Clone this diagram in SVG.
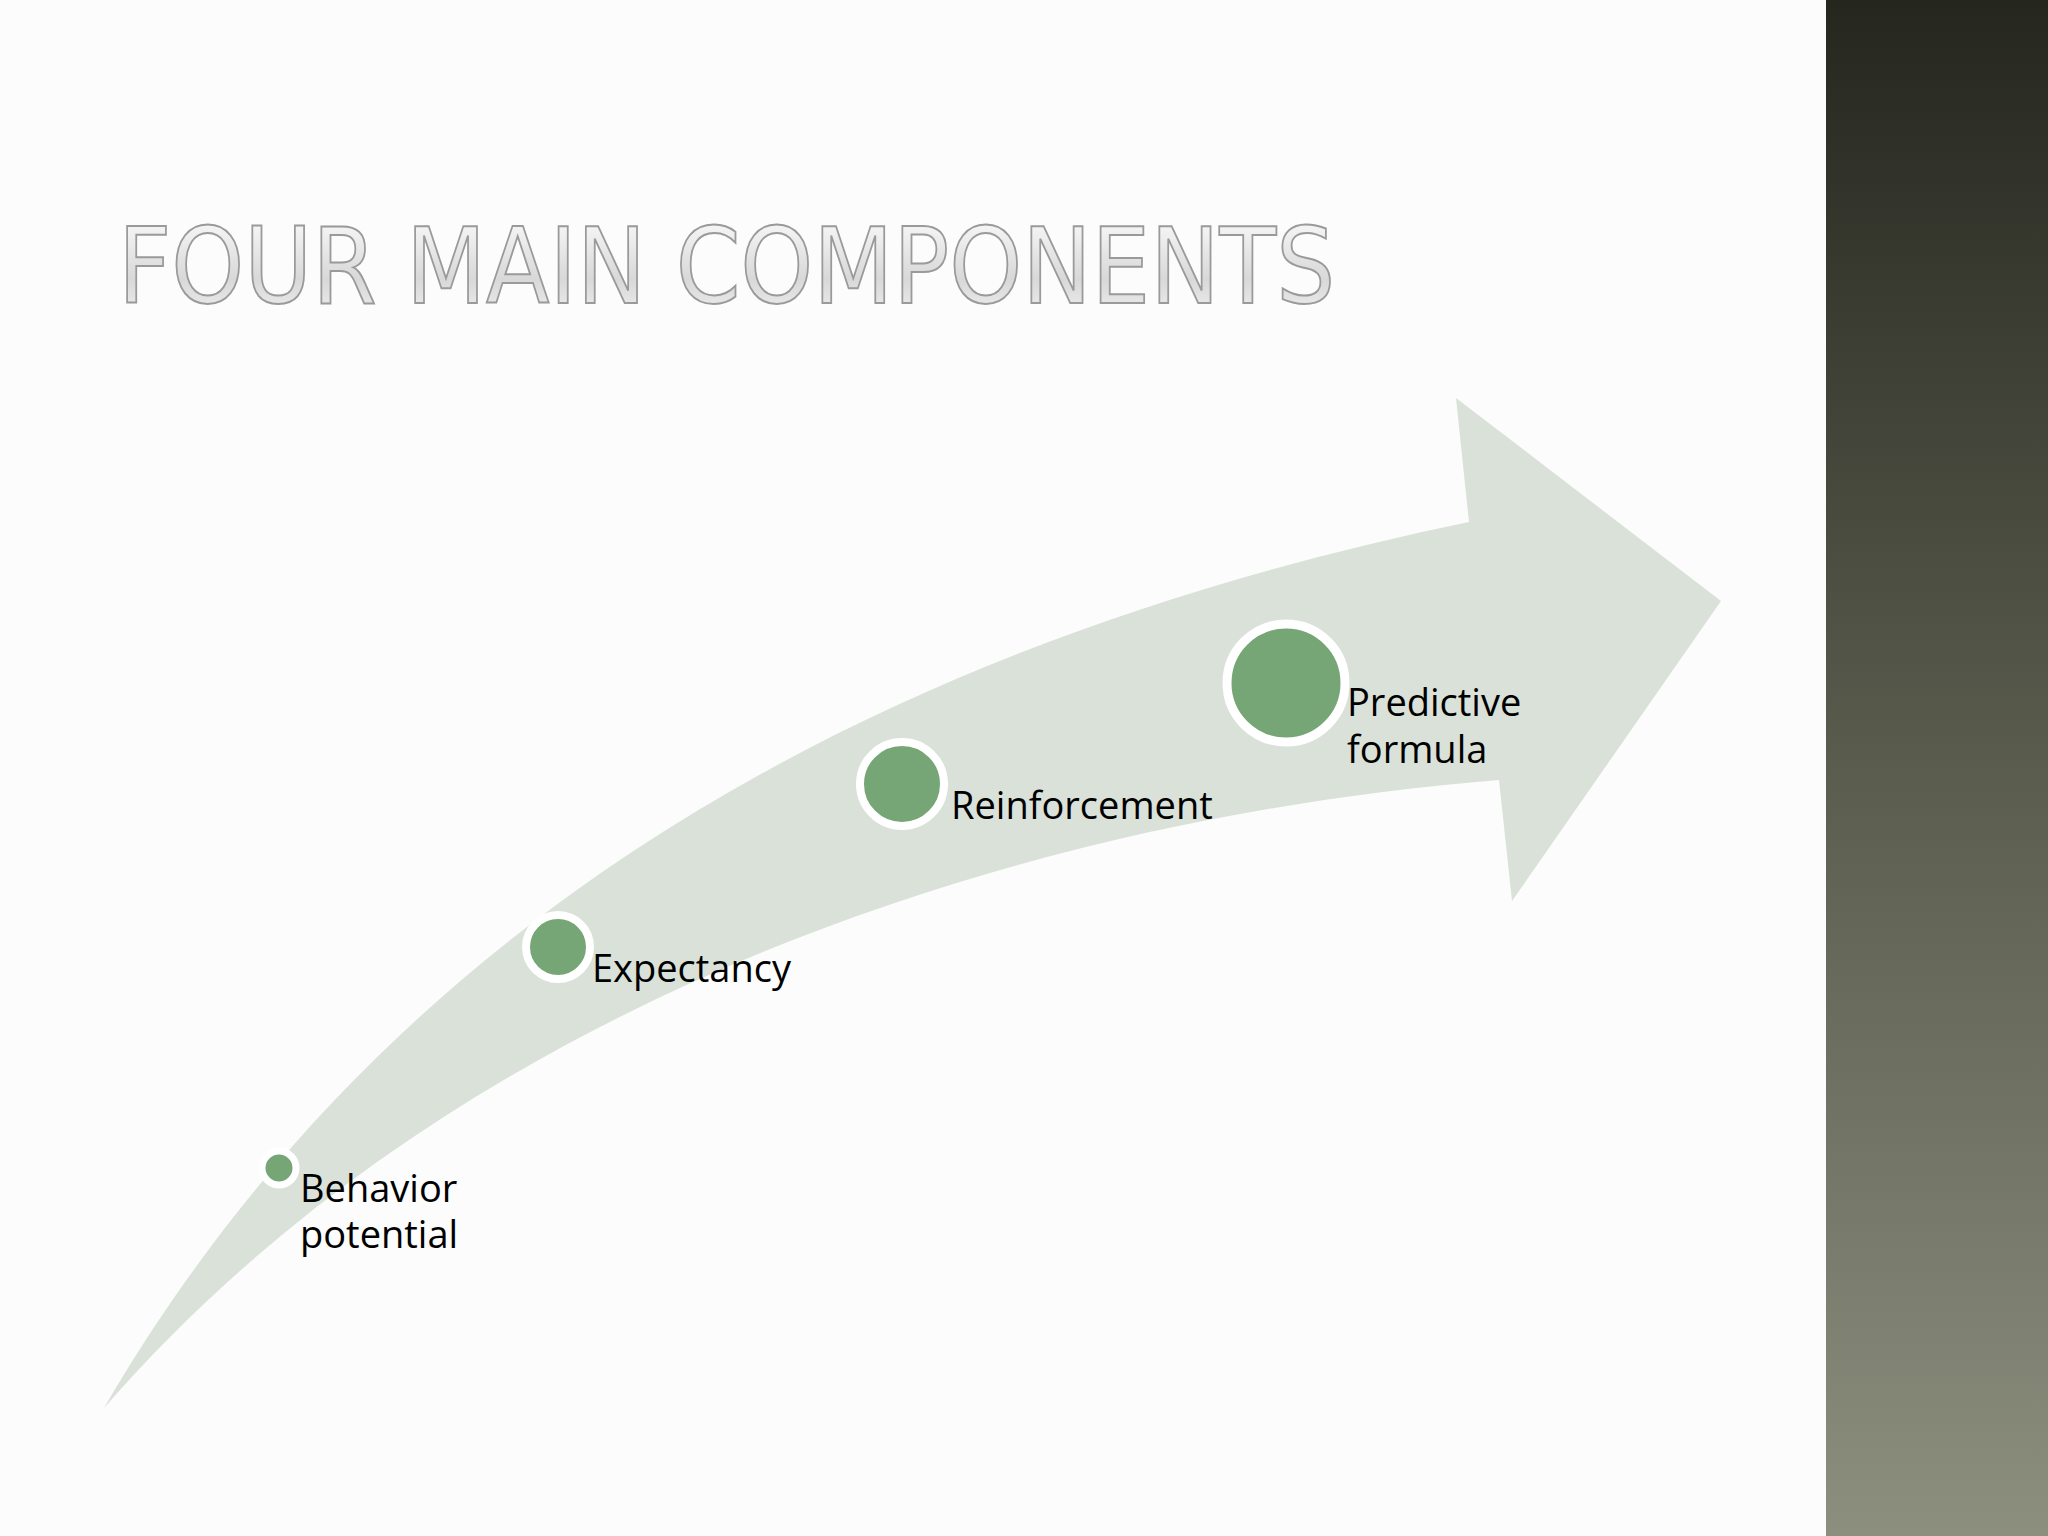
<svg xmlns="http://www.w3.org/2000/svg" width="2048" height="1536" viewBox="0 0 2048 1536">
<defs>
<linearGradient id="side" x1="0" y1="0" x2="0" y2="1"><stop offset="0" stop-color="#25271f"/><stop offset="0.5" stop-color="#5a5c4e"/><stop offset="1" stop-color="#8c8e7e"/></linearGradient>
<linearGradient id="title" x1="0" y1="0" x2="0" y2="1"><stop offset="0" stop-color="#ffffff"/><stop offset="0.6" stop-color="#d8d8d8"/><stop offset="1" stop-color="#f4f4f4"/></linearGradient>
<style>
.lbl{font-family:"Open Sans","DejaVu Sans",sans-serif;font-size:38px;fill:#000}
.dot{fill:#76a576;stroke:#fff}
</style>
</defs>
<rect width="2048" height="1536" fill="#fbfcfb"/>
<rect x="1826" y="0" width="222" height="1536" fill="url(#side)"/>
<text x="118" y="303" font-family="'DejaVu Sans',sans-serif" font-size="106" textLength="1217" lengthAdjust="spacingAndGlyphs" fill="url(#title)" stroke="#9a9a9a" stroke-width="2">FOUR MAIN COMPONENTS</text>
<path id="arrow" d="M104,1408 C400,900 900,640 1469,522 L1456,398 L1721,601 L1512,901 L1499,780 C1000,820 450,1010 104,1408 Z" fill="#d9e1d9"/>
<g id="n1"><circle class="dot" cx="279" cy="1168" r="17" stroke-width="7"/><text class="lbl" x="300" y="1202">Behavior</text><text class="lbl" x="300" y="1248">potential</text></g>
<g id="n2"><circle class="dot" cx="558" cy="947" r="32" stroke-width="8"/><text class="lbl" x="592" y="982">Expectancy</text></g>
<g id="n3"><circle class="dot" cx="902" cy="784" r="42" stroke-width="8"/><text class="lbl" x="951" y="819">Reinforcement</text></g>
<g id="n4"><circle class="dot" cx="1286" cy="683" r="59" stroke-width="9"/><text class="lbl" x="1347" y="716">Predictive</text><text class="lbl" x="1347" y="763">formula</text></g>
<g id="connectors"/>
</svg>
